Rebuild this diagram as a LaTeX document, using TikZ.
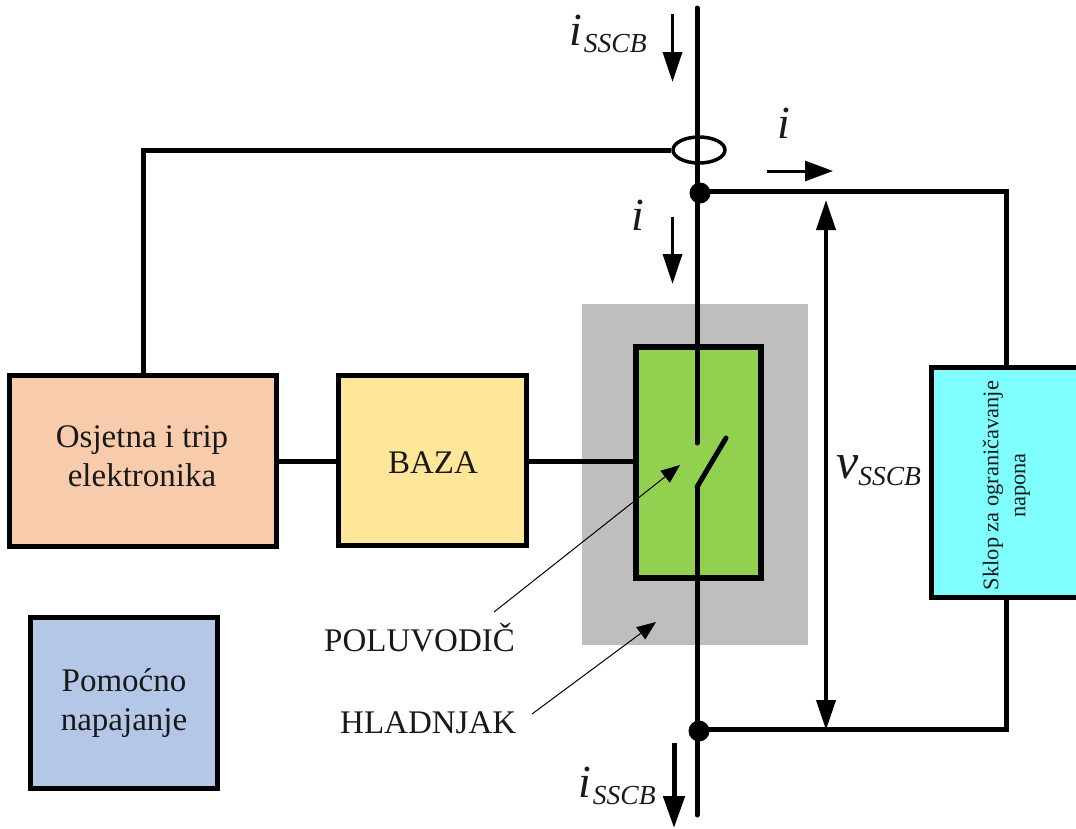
\documentclass[tikz,border=0pt]{standalone}
\usepackage{fontspec}
\setmainfont{Liberation Serif}
\usetikzlibrary{arrows.meta,calc,shapes.geometric}
\definecolor{sinkgrey}{HTML}{BEBEBE}
\definecolor{semigreen}{HTML}{92D050}
\definecolor{trippeach}{HTML}{F8CBAD}
\definecolor{bazayellow}{HTML}{FFE699}
\definecolor{auxblue}{HTML}{B4C7E7}
\definecolor{limcyan}{HTML}{7FFFFF}
\tikzset{
  wire/.style={draw=black,line width=5pt},
  boxnode/.style={draw=black,line width=5pt,inner sep=0pt,align=center,font=\fontsize{33}{39}\selectfont,text=black!90},
  lbl/.style={inner sep=0pt,anchor=base west,text=black!90},
  labeltext/.style={lbl,font=\fontsize{33}{38}\selectfont},
  dotnode/.style={circle,fill=black,inner sep=0pt,minimum size=21pt},
  curarrow/.style={line width=3.5pt,-{Triangle[length=30pt,width=19pt]}},
  thinarrow/.style={line width=1pt,-{Triangle[length=19pt,width=15pt]}},
}
\newcommand{\isscb}{{\fontsize{46}{50}\selectfont\itshape i}\kern2pt\raisebox{-7pt}{\fontsize{27.5}{30}\selectfont\itshape SSCB}}
\newcommand{\vsscb}{{\fontsize{50}{54}\selectfont\itshape v}\raisebox{-7pt}{\fontsize{27.5}{30}\selectfont\itshape SSCB}}
\begin{document}
\begin{tikzpicture}[x=1pt,y=-1pt]
\useasboundingbox (0,0) rectangle (1076,828);
% heat sink
\node[fill=sinkgrey,inner sep=0pt,minimum width=226pt,minimum height=341pt] (sink) at (695,474.5) {};
% boxes
\node[boxnode,fill=semigreen,line width=6pt,minimum width=125pt,minimum height=231pt] (semi) at (698,462) {};
\node[boxnode,fill=trippeach,minimum width=267pt,minimum height=171pt] (trip) at (143,461) {};
\node[boxnode,fill=bazayellow,minimum width=188pt,minimum height=170pt] (baza) at (432.5,460.5) {};
\node[boxnode,fill=auxblue,minimum width=187pt,minimum height=171pt] (aux) at (124,703) {};
\node[boxnode,fill=limcyan,minimum width=150pt,minimum height=230pt] (lim) at (1006,482.5) {};
\node[align=center,inner sep=0pt,text=black!90,font=\fontsize{33}{39}\selectfont] (triptext) at (142,456.5) {Osjetna i trip\\elektronika};
\node[inner sep=0pt,text=black!90,font=\fontsize{33}{39}\selectfont] (bazatext) at (433,463) {BAZA};
\node[align=center,inner sep=0pt,text=black!90,font=\fontsize{33}{39}\selectfont] (auxtext) at (124,703) {Pomoćno\\napajanje};
\node[rotate=90,align=center,inner sep=0pt,text=black!90,font=\fontsize{22.4}{27}\selectfont] (limtext) at (1006.5,485.5) {Sklop za ograničavanje\\napona};
% main conductor
\coordinate (top) at (697,8);
\coordinate (bottom) at (697,815);
\coordinate (contactU) at (697,443);
\coordinate (contactL) at (697,487);
\coordinate (blade) at (726,438);
\node[dotnode] (j1) at (700,193) {};
\node[dotnode] (j2) at (699,731) {};
\node[ellipse,draw=black,line width=3.5pt,inner sep=0pt,minimum width=52pt,minimum height=26pt] (ct) at (699,150) {};
\draw[wire,line cap=round] (top) -- (contactU);
\draw[wire,line cap=round] (bottom) -- (contactL);
\draw[wire,line cap=round] (contactL) -- (blade);
% signal wiring
\coordinate (c1) at (143,150);
\draw[wire] (ct.west) -- (c1) -- (trip.north);
\draw[wire] (trip.east |- 0,461) -- (baza.west |- 0,461);
\draw[wire] (baza.east |- 0,461) -- (semi.west |- 0,461);
% voltage limiter branch
\coordinate (c2) at (1006,191);
\coordinate (c3) at (1006,729);
\draw[wire] (j1 |- c2) -- (c2) -- (lim.north -| c2);
\draw[wire] (lim.south -| c3) -- (c3) -- (j2 |- c3);
% current arrows
\coordinate (a1s) at (672.5,14);  \coordinate (a1e) at (672.5,82);
\coordinate (a2s) at (672.5,217); \coordinate (a2e) at (672.5,284);
\coordinate (a3s) at (767,171);   \coordinate (a3e) at (833,171);
\coordinate (a4s) at (674,743);   \coordinate (a4e) at (674,828);
\coordinate (v1) at (826,200);    \coordinate (v2) at (826,730);
\draw[curarrow] (a1s) -- (a1e);
\draw[curarrow] (a2s) -- (a2e);
\draw[curarrow,line width=3pt,-{Triangle[length=28pt,width=20pt]}] (a3s) -- (a3e);
\draw[curarrow,line width=5pt,-{Triangle[length=32pt,width=21pt]}] (a4s) -- (a4e);
\draw[line width=4pt,{Triangle[length=30pt,width=19pt]}-{Triangle[length=30pt,width=19pt]}] (v1) -- (v2);
% labels
\node[lbl] (li1) at (569,45) {\isscb};
\node[lbl] (li2) at (777,138) {\fontsize{46}{50}\selectfont\itshape i};
\node[lbl] (li3) at (631,230) {\fontsize{46}{50}\selectfont\itshape i};
\node[lbl] (li4) at (578,797) {\isscb};
\node[lbl] (lv) at (836,478) {\vsscb};
\node[labeltext] (poluvodic) at (324,651) {POLUVODIČ};
\node[labeltext] (hladnjak) at (340,733) {HLADNJAK};
% pointers
\coordinate (p1s) at (494,612); \coordinate (p1e) at (680,465);
\coordinate (p2s) at (532,714); \coordinate (p2e) at (656,622);
\draw[thinarrow] (p1s) -- (p1e);
\draw[thinarrow] (p2s) -- (p2e);
\end{tikzpicture}
\end{document}
